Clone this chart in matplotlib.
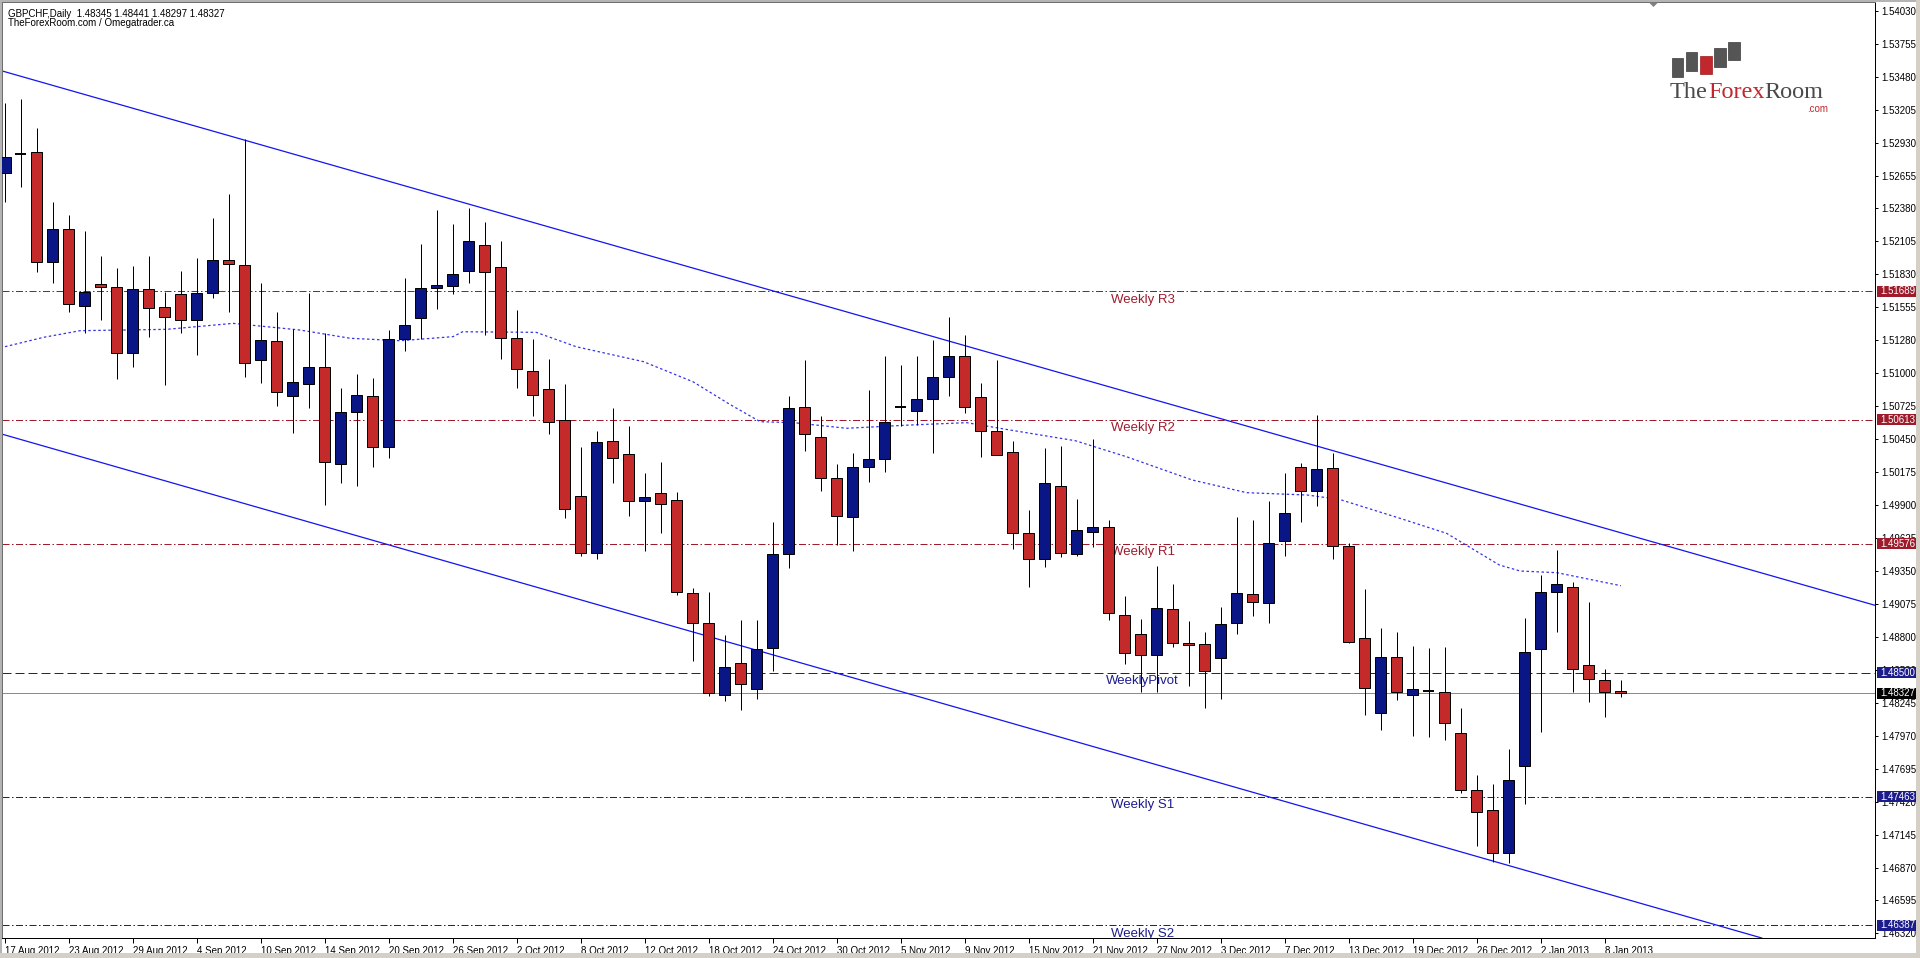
import matplotlib
matplotlib.use('Agg')
import matplotlib.pyplot as plt
from matplotlib.patches import Rectangle, Polygon
import pandas as pd

# ---------------- data ----------------
holidays = ['2012-12-25', '2013-01-01']
dates = [d for d in pd.bdate_range('2012-08-17', '2013-01-09') if d.strftime('%Y-%m-%d') not in holidays]

opens = [1.52678, 1.52837, 1.52849, 1.51934, 1.52205, 1.51567, 1.51748, 1.51720, 1.51169, 1.51704,
         1.51553, 1.51662, 1.51447, 1.51670, 1.51946, 1.51907, 1.51113, 1.51272, 1.50814, 1.50910,
         1.51057, 1.50241, 1.50681, 1.50812, 1.50383, 1.51286, 1.51461, 1.51712, 1.51734, 1.51859,
         1.52074, 1.51890, 1.51294, 1.51021, 1.50870, 1.50609, 1.49973, 1.49497, 1.50436, 1.50325,
         1.49934, 1.49998, 1.49942, 1.49163, 1.48912, 1.48312, 1.48577, 1.48360, 1.48703, 1.49489,
         1.50717, 1.50467, 1.50124, 1.49803, 1.50221, 1.50288, 1.50722, 1.50689, 1.50789, 1.50973,
         1.51146, 1.50801, 1.50517, 1.50341, 1.49667, 1.49447, 1.50060, 1.49491, 1.49678, 1.49719,
         1.48981, 1.48822, 1.48644, 1.49029, 1.48750, 1.48739, 1.48624, 1.48917, 1.49154, 1.49084,
         1.49602, 1.50221, 1.50018, 1.50207, 1.49558, 1.48791, 1.48160, 1.48628, 1.48312, 1.48346,
         1.48340, 1.47992, 1.47518, 1.47351, 1.46994, 1.47721, 1.48694, 1.49171, 1.49213, 1.48563,
         1.48438, 1.48345]
highs = [1.53263, 1.53294, 1.53050, 1.52436, 1.52325, 1.52191, 1.51982, 1.51884, 1.51901, 1.51982,
         1.51684, 1.51857, 1.51963, 1.52297, 1.52500, 1.52958, 1.51759, 1.51511, 1.51369, 1.51670,
         1.51341, 1.50881, 1.50996, 1.50965, 1.51364, 1.51801, 1.52082, 1.52367, 1.52247, 1.52381,
         1.52269, 1.52110, 1.51531, 1.51288, 1.51121, 1.50910, 1.50388, 1.50519, 1.50714, 1.50564,
         1.50166, 1.50258, 1.50012, 1.49204, 1.49171, 1.48814, 1.48939, 1.48939, 1.49761, 1.50814,
         1.51115, 1.50647, 1.50243, 1.50338, 1.50862, 1.51146, 1.51071, 1.51149, 1.51280, 1.51470,
         1.51322, 1.50923, 1.51113, 1.50438, 1.49859, 1.50377, 1.50396, 1.49953, 1.50455, 1.49775,
         1.49140, 1.48950, 1.49391, 1.49240, 1.48934, 1.48839, 1.49051, 1.49803, 1.49775, 1.49937,
         1.50166, 1.50249, 1.50656, 1.50333, 1.49580, 1.49199, 1.48870, 1.48837, 1.48722, 1.48703,
         1.48711, 1.48206, 1.47644, 1.47569, 1.47858, 1.48954, 1.49316, 1.49525, 1.49260, 1.49092,
         1.48527, 1.48441]
lows = [1.52436, 1.52561, 1.51851, 1.51754, 1.51516, 1.51341, 1.51447, 1.50951, 1.51057, 1.51308,
        1.50904, 1.51336, 1.51155, 1.51629, 1.51516, 1.50973, 1.50918, 1.50728, 1.50505, 1.50709,
        1.49901, 1.50082, 1.50060, 1.50216, 1.50291, 1.51188, 1.51288, 1.51539, 1.51662, 1.51754,
        1.51322, 1.51119, 1.50881, 1.50647, 1.50492, 1.49795, 1.49477, 1.49447, 1.50082, 1.49811,
        1.49519, 1.49664, 1.49148, 1.48597, 1.48304, 1.48262, 1.48187, 1.48279, 1.48513, 1.49372,
        1.50352, 1.50018, 1.49564, 1.49519, 1.50095, 1.50179, 1.50561, 1.50569, 1.50338, 1.50812,
        1.50672, 1.50304, 1.50316, 1.49535, 1.49218, 1.49380, 1.49464, 1.49474, 1.49552, 1.48939,
        1.48572, 1.48340, 1.48340, 1.48716, 1.48388, 1.48201, 1.48277, 1.48822, 1.48975, 1.48912,
        1.49477, 1.49756, 1.49892, 1.49449, 1.48745, 1.48145, 1.48020, 1.48271, 1.47972, 1.47964,
        1.47936, 1.47491, 1.47050, 1.46919, 1.46906, 1.47401, 1.48006, 1.48842, 1.48340, 1.48251,
        1.48131, 1.48297]
closes = [1.52807, 1.52837, 1.51934, 1.52208, 1.51578, 1.51679, 1.51720, 1.51169, 1.51704, 1.51545,
          1.51470, 1.51447, 1.51675, 1.51946, 1.51915, 1.51085, 1.51280, 1.50843, 1.50926, 1.51057,
          1.50258, 1.50676, 1.50818, 1.50383, 1.51286, 1.51403, 1.51712, 1.51740, 1.51829, 1.52107,
          1.51851, 1.51299, 1.51035, 1.50820, 1.50597, 1.49865, 1.49497, 1.50430, 1.50291, 1.49934,
          1.49965, 1.49907, 1.49171, 1.48912, 1.48327, 1.48544, 1.48402, 1.48697, 1.49491, 1.50709,
          1.50492, 1.50124, 1.49811, 1.50216, 1.50283, 1.50594, 1.50722, 1.50784, 1.50968, 1.51146,
          1.50722, 1.50522, 1.50321, 1.49664, 1.49452, 1.50082, 1.49497, 1.49692, 1.49719, 1.48995,
          1.48666, 1.48644, 1.49037, 1.48750, 1.48733, 1.48516, 1.48906, 1.49163, 1.49087, 1.49586,
          1.49831, 1.50018, 1.50199, 1.49558, 1.48753, 1.48369, 1.48628, 1.48340, 1.48360, 1.48346,
          1.48076, 1.47518, 1.47332, 1.46994, 1.47602, 1.48669, 1.49171, 1.49240, 1.48530, 1.48444,
          1.48340, 1.48327]

# moving average
ma_idx = [0, 2.4, 4.7, 10.1, 14.25, 18.4, 21.6, 24.7, 28.0, 28.6, 33.2, 35.7, 39.9, 43.0, 45.3,
          47.2, 49.3, 52.6, 56.5, 60.1, 62.8, 66.9, 70.1, 74.2, 77.6, 81.4, 83.4, 87.2, 90.1,
          93.4, 94.7, 97.0, 101.0]
ma_val = [1.51224, 1.51302, 1.51358, 1.51369, 1.51419, 1.51364, 1.51294, 1.51274, 1.51308, 1.51349,
          1.51344, 1.51224, 1.51099, 1.50931, 1.50742, 1.50597, 1.50589, 1.50542, 1.50569, 1.50589,
          1.50528, 1.50438, 1.50304, 1.50110, 1.50004, 1.49984, 1.49948, 1.49789, 1.49664, 1.49399,
          1.49349, 1.49335, 1.49226]

# trend channel anchors (bar index, price)
channel_upper = [(0, 1.53522), (102, 1.49630)]
channel_lower = [(0, 1.50486), (102, 1.46580)]

# weekly pivot levels
level_names = ['Weekly R3', 'Weekly R2', 'Weekly R1', 'WeeklyPivot', 'Weekly S1', 'Weekly S2']
level_values = [1.51689, 1.50613, 1.49576, 1.48500, 1.47463, 1.46387]
current_price = 1.48327

price_ticks = ['1.46320', '1.46595', '1.46870', '1.47145', '1.47420', '1.47695', '1.47970', '1.48245',
               '1.48520', '1.48800', '1.49075', '1.49350', '1.49625', '1.49900', '1.50175', '1.50450',
               '1.50725', '1.51000', '1.51280', '1.51555', '1.51830', '1.52105', '1.52380', '1.52655',
               '1.52930', '1.53205', '1.53480', '1.53755', '1.54030']

title_line1 = 'GBPCHF,Daily  1.48345 1.48441 1.48297 1.48327'
title_line2 = 'TheForexRoom.com / Omegatrader.ca'

# ---------------- styling ----------------
W, H = 1920, 958
PX = 0.72  # one pixel in points at dpi 100
RED = '#C42A2A'
BLUE = '#0A1686'
LEVEL_RED = '#9E1B2C'
LEVEL_BLUE = '#1C1C8C'
FONT = 'Liberation Sans'

fig = plt.figure(figsize=(W / 100, H / 100), dpi=100, facecolor='white')
ax_left, ax_right, ax_top, ax_bottom = 2, 1875, 2, 938
ax = fig.add_axes([ax_left / W, (H - ax_bottom) / H, (ax_right - ax_left) / W, (ax_bottom - ax_top) / H])
ax.set_facecolor('white')

px_per_bar = 16.0
x0_px = 5.0
ax.set_xlim((ax_left - x0_px) / px_per_bar, (ax_right - x0_px) / px_per_bar)
ppp = 0.00275 / 32.9  # price per pixel
ax.set_ylim(1.54030 - (ax_bottom - 11) * ppp, 1.54030 + (11 - ax_top) * ppp)

# horizontal levels
for name, val in zip(level_names, level_values):
    if 'R' in name.split()[-1] and name != 'WeeklyPivot':
        col, ls = LEVEL_RED, (0, (7, 2.5, 1.5, 2.5))
    elif name == 'WeeklyPivot':
        col, ls = LEVEL_BLUE, (0, (9, 4))
    else:
        col, ls = LEVEL_BLUE, (0, (7, 2.5, 1.5, 2.5))
    ax.axhline(val, color=col, lw=PX, ls=ls, zorder=1)
    ax.text(71.1, val - 2.5 * ppp, name, color=col, fontsize=9.5, family=FONT,
            ha='center', va='top', zorder=2, clip_on=True)

ax.axhline(current_price, color='#8C8C8C', lw=PX, zorder=1)

# moving average
ax.plot(ma_idx, ma_val, color='#3434E6', lw=0.9, ls=(0, (2, 2)), zorder=2)

# channel
for (a, b) in [channel_upper, channel_lower]:
    ax.axline(a, b, color='#1414F0', lw=0.9, zorder=2)

# candles
bw = 11 / px_per_bar
for i, (o, h, l, c) in enumerate(zip(opens, highs, lows, closes)):
    ax.vlines(i, l, h, color='black', lw=PX, zorder=3)
    if abs(c - o) < 1e-7:
        ax.hlines(o, i - bw / 2, i + bw / 2, color='black', lw=1.4, zorder=4)
    else:
        col = BLUE if c > o else RED
        ax.add_patch(Rectangle((i - bw / 2, min(o, c)), bw, abs(c - o), facecolor=col,
                               edgecolor='black', lw=PX, zorder=4))

# axes / ticks
for s in ['left', 'top']:
    ax.spines[s].set_color('#6E6E6E')
    ax.spines[s].set_linewidth(PX)
for s in ['right', 'bottom']:
    ax.spines[s].set_color('black')
    ax.spines[s].set_linewidth(PX)

ax.yaxis.tick_right()
ax.set_yticks([float(t) for t in price_ticks])
ax.set_yticklabels(price_ticks)
ax.tick_params(axis='y', direction='out', length=2.5, width=PX, pad=2, labelsize=7, colors='black')

xt = list(range(0, len(dates), 4))
ax.set_xticks(xt)
ax.set_xticklabels([f"{dates[i].day} {dates[i].strftime('%b %Y')}" for i in xt])
ax.tick_params(axis='x', direction='out', length=3.5, width=PX, pad=2, labelsize=7, colors='black')
for lab in ax.get_xticklabels() + ax.get_yticklabels():
    lab.set_family(FONT)
for lab in ax.get_xticklabels():
    lab.set_ha('left')

# highlighted price boxes on the right axis
box_h = 11 * ppp
box_w = 40 / (ax_right - ax_left)
box_x = 1.0 + 2 / (ax_right - ax_left)
box_colors = [LEVEL_RED if v > 1.4952 else LEVEL_BLUE for v in level_values]
for val, col in list(zip(level_values, box_colors)) + [(current_price, 'black')]:
    ax.add_patch(Rectangle((box_x, val - box_h / 2), box_w, box_h, transform=ax.get_yaxis_transform(),
                           facecolor=col, edgecolor='none', clip_on=False, zorder=10))
    ax.text(box_x + 3 / (ax_right - ax_left), val, f'{val:.5f}', transform=ax.get_yaxis_transform(),
            color='white', fontsize=7, family=FONT, ha='left', va='center', clip_on=False, zorder=11)

# ---------------- overlay in pixel coordinates ----------------
ov = fig.add_axes([0, 0, 1, 1], zorder=20)
ov.set_xlim(0, W)
ov.set_ylim(H, 0)
ov.axis('off')

# window edges
ov.add_patch(Rectangle((0, 0), W, 1.5, facecolor='#B4B4B4', edgecolor='none'))
ov.add_patch(Rectangle((0, 0), 1.5, H, facecolor='#B4B4B4', edgecolor='none'))
ov.add_patch(Rectangle((1916, 0), 4, H, facecolor='#D4D0C8', edgecolor='none'))
ov.add_patch(Rectangle((0, 953), W, 5, facecolor='#D4D0C8', edgecolor='none'))

# chart shift marker
ov.add_patch(Polygon([(1649, 2.5), (1658, 2.5), (1653.5, 7)], closed=True, facecolor='#808080', edgecolor='none'))

# title
ov.text(8, 13.5, title_line1, fontsize=7, family=FONT, color='black', va='center', ha='left')
ov.text(8, 22.5, title_line2, fontsize=7, family=FONT, color='black', va='center', ha='left')

# logo
logo_bars = [(1671.7, 58.3, 11.6, 18.4, '#555555'), (1685.7, 52.3, 11.6, 18.7, '#555555'),
             (1700.0, 56.0, 11.7, 18.3, '#C1272D'), (1714.0, 48.3, 11.7, 18.4, '#555555'),
             (1728.3, 41.7, 11.7, 18.3, '#555555')]
for (x, y, w, h, c) in logo_bars:
    ov.add_patch(Rectangle((x, y), w, h, facecolor=c, edgecolor='#3A3A3A' if c != '#C1272D' else '#9A1A1A', lw=0.5))

renderer = fig.canvas.get_renderer()
xpos = 1670
for s, c in [('The', '#4A4A4A'), ('Forex', '#C1272D'), ('Room', '#4A4A4A')]:
    t = ov.text(xpos, 98, s, color=c, fontsize=17.5, family='Liberation Serif', va='baseline', ha='left')
    xpos += t.get_window_extent(renderer).width
ov.text(1828, 111.5, '.com', color='#C1272D', fontsize=7, family=FONT, va='baseline', ha='right')

fig.savefig('out.png', dpi=100, facecolor='white')
